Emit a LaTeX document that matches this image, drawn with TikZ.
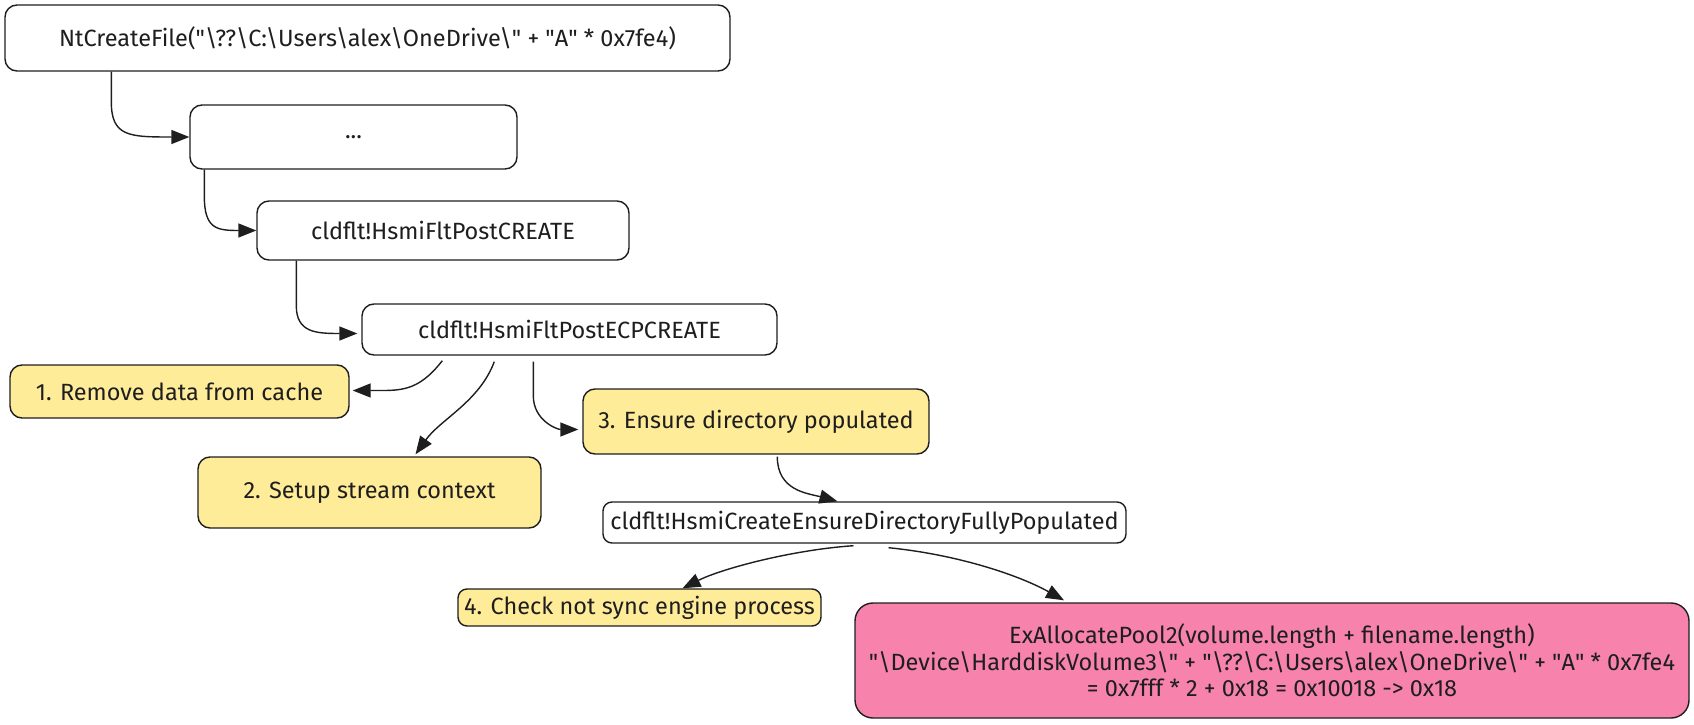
\documentclass[tikz,border=0pt]{standalone}
\usepackage{fontspec}
\setmainfont{Fira Sans}
\usetikzlibrary{arrows.meta}
\definecolor{ink}{HTML}{1E1E1E}
\definecolor{noteyellow}{HTML}{FFEC99}
\definecolor{alertpink}{HTML}{F783AC}
\newcommand{\sq}{\textquotedbl}
\newcommand{\bs}{\textbackslash}
\tikzset{
  box/.style={draw=ink, line width=1.4pt, rounded corners=12pt, fill=white,
    inner sep=0pt, align=center, text=ink,
    font=\fontsize{23.5}{26.5}\selectfont},
  note/.style={box, fill=noteyellow},
  alert/.style={box, fill=alertpink},
  arr/.style={draw=ink, line width=1.4pt, -{Triangle[length=18pt,width=14pt]}},
}
\begin{document}
\begin{tikzpicture}[x=1pt,y=-1pt]
\useasboundingbox (0,0) rectangle (1694,725);

% call chain
\node[box, minimum width=725pt, minimum height=66pt] (A) at (367.5,38)
  {NtCreateFile(\sq\bs??\bs C:\bs Users\bs alex\bs OneDrive\bs\sq{} + \sq A\sq{} * 0x7fe4)};
\node[box, minimum width=327pt, minimum height=64pt] (B) at (353.5,137) {...};
\node[box, minimum width=372pt, minimum height=59pt] (C) at (443,230.5) {cldflt!HsmiFltPostCREATE};
\node[box, minimum width=415pt, minimum height=51pt] (D) at (569.5,329.5) {cldflt!HsmiFltPostECPCREATE};

% steps
\node[note, minimum width=339pt, minimum height=53pt] (E) at (179.5,391.5) {1. Remove data from cache};
\node[note, minimum width=343pt, minimum height=71pt] (F) at (369.5,492.5) {2. Setup stream context};
\node[note, minimum width=346pt, minimum height=65pt] (G) at (756,421.5) {3. Ensure directory populated};
\node[box, minimum width=523pt, minimum height=41pt, rounded corners=9pt] (H) at (864.5,522.5) {cldflt!HsmiCreateEnsureDirectoryFullyPopulated};
\node[note, minimum width=363pt, minimum height=37pt, rounded corners=9pt] (I) at (639.5,607.5) {4. Check not sync engine process};
\node[alert, minimum width=834pt, minimum height=115pt, rounded corners=18pt] (J) at (1272,660.5)
  {ExAllocatePool2(volume.length + filename.length)\\
   \sq\bs Device\bs HarddiskVolume3\bs\sq{} + \sq\bs??\bs C:\bs Users\bs alex\bs OneDrive\bs\sq{} + \sq A\sq{} * 0x7fe4\\
   = 0x7fff * 2 + 0x18 = 0x10018 -> 0x18};

% connectors
\draw[arr] ([xshift=107pt]A.south west) -- ++(0,30) .. controls ++(0,35) and ++(-60,0) .. (B.west);
\draw[arr] ([xshift=15pt]B.south west) -- ++(0,26) .. controls ++(0,33) and ++(-40,0) .. (C.west);
\draw[arr, shorten >=4pt] ([xshift=40pt]C.south west) -- ++(0,45) .. controls ++(0,27) and ++(-45,0) .. ([yshift=-4pt]D.west);
\draw[arr, shorten >=3pt] ([xshift=81pt,yshift=-5pt]D.south west) .. controls ++(-25,32) and ++(50,0) .. ([yshift=1pt]E.east);
\draw[arr] ([xshift=133pt,yshift=-6pt]D.south west) .. controls ++(-15,40) and ++(25,-35) .. ([xshift=46pt,yshift=2pt]F.north);
\draw[arr, shorten >=4pt] ([xshift=172pt,yshift=-6pt]D.south west) -- ++(0,34) .. controls ++(0,25) and ++(-25,0) .. ([yshift=-8pt]G.west);
\draw[arr] ([xshift=195pt,yshift=-2pt]G.south west) .. controls ++(0,34) and ++(-30,-8) .. ([xshift=-27pt]H.north);
\draw[arr] ([xshift=-11pt,yshift=-2pt]H.south) .. controls ++(-60,4) and ++(40,-20) .. ([xshift=43pt]I.north);
\draw[arr] ([xshift=24pt,yshift=-4pt]H.south) .. controls ++(70,7) and ++(-45,-25) .. ([xshift=-208pt,yshift=2pt]J.north);
\end{tikzpicture}
\end{document}
